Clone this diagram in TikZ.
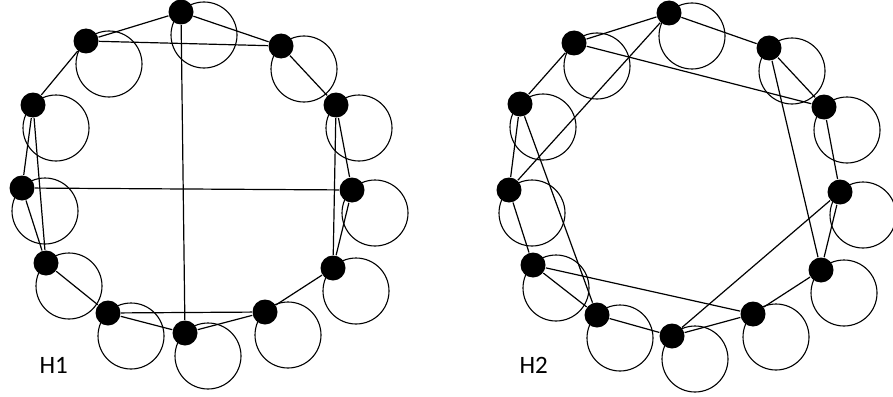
\documentclass[tikz,border=0pt]{standalone}
\usepackage{fontspec}
\setmainfont{Carlito}
\begin{document}
\begin{tikzpicture}[x=1pt,y=-1pt,line width=1.2pt,
  vtx/.style={circle,fill=black,inner sep=0pt,minimum size=25pt},
  ring/.style={draw,line width=1.1pt},
  glabel/.style={anchor=base west,inner sep=0pt,font=\fontsize{25}{30}\selectfont}]
  \useasboundingbox (0,0) rectangle (893,396);
  % H1: loops and vertices
  \foreach \n/\x/\y in {t/181/12, a/86/41, b/281/46, c/33/105, d/336/105, e/22/188,
      f/352/190, g/46/263, h/333/268, i/108/313, j/185/333, k/265/312} {
    \draw[ring] (\x+23,\y+23) circle[radius=33pt];
    \node[vtx] (h1\n) at (\x,\y) {};
  }
  % H2: loops and vertices
  \foreach \n/\x/\y in {t/669/13, a/574/43, b/769/48, c/520/104, d/824/107, e/509/190,
      f/840/192, g/533/265, h/821/270, i/597/315, j/672/336, k/753/314} {
    \draw[ring] (\x+23,\y+23) circle[radius=33pt];
    \node[vtx] (h2\n) at (\x,\y) {};
  }
  % outer cycles
  \draw (h1t) -- (h1a) -- (h1c) -- (h1e) -- (h1g) -- (h1i) -- (h1j) -- (h1k) -- (h1h) -- (h1f) -- (h1d) -- (h1b) -- (h1t);
  \draw (h2t) -- (h2a) -- (h2c) -- (h2e) -- (h2g) -- (h2i) -- (h2j) -- (h2k) -- (h2h) -- (h2f) -- (h2d) -- (h2b) -- (h2t);
  % chords
  \draw (h1a) -- (h1b);
  \draw (h1t) -- (h1j);
  \draw (h1c) -- (h1g);
  \draw (h1e) -- (h1f);
  \draw (h1d) -- (h1h);
  \draw (h1i) -- (h1k);
  \draw (h2a) -- (h2d);
  \draw (h2t) -- (h2e);
  \draw (h2c) -- (h2i);
  \draw (h2g) -- (h2k);
  \draw (h2j) -- (h2f);
  \draw (h2b) -- (h2h);
  % names
  \node[glabel] (name1) at (39,373) {H1};
  \node[glabel] (name2) at (519,373) {H2};
\end{tikzpicture}
\end{document}
